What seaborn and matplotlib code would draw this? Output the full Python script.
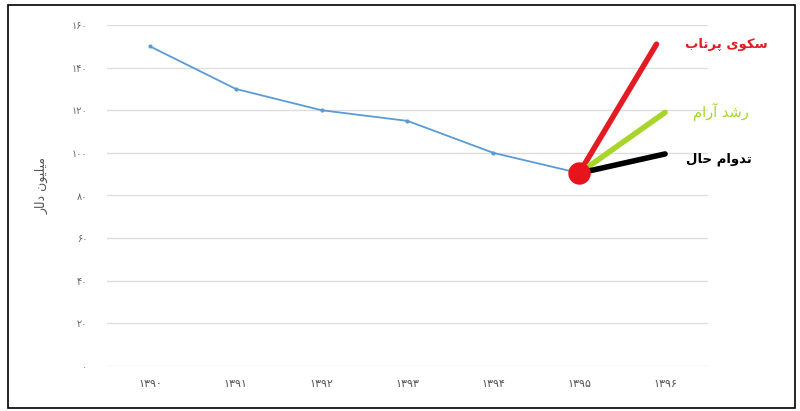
import matplotlib
matplotlib.use("Agg")
import matplotlib.pyplot as plt
import seaborn as sns
import pandas as pd
from matplotlib.patches import Rectangle

years = [1390, 1391, 1392, 1393, 1394, 1395]
values = [150, 130, 120, 115, 100, 90.5]

# scenario lines start at the 1395 point
scenario_names = ["سکوی پرتاب", "رشد آرام", "تدوام حال"]
scenario_end_x = [1395.9, 1396.0, 1396.0]
scenario_end_y = [151, 119, 99.5]
scenario_colors = ["#e31b23", "#a8d52a", "#000000"]

x_ticks = [1390, 1391, 1392, 1393, 1394, 1395, 1396]
y_ticks = [0, 20, 40, 60, 80, 100, 120, 140, 160]
y_label = "میلیون دلار"

## minimal arabic shaping, matplotlib has no complex text layout
FORMS = {
    "ا": ("\uFE8D", "\uFE8E", None, None),
    "آ": ("\uFE81", "\uFE82", None, None),
    "ب": ("\uFE8F", "\uFE90", "\uFE91", "\uFE92"),
    "پ": ("\uFB56", "\uFB57", "\uFB58", "\uFB59"),
    "ت": ("\uFE95", "\uFE96", "\uFE97", "\uFE98"),
    "ح": ("\uFEA1", "\uFEA2", "\uFEA3", "\uFEA4"),
    "د": ("\uFEA9", "\uFEAA", None, None),
    "ر": ("\uFEAD", "\uFEAE", None, None),
    "س": ("\uFEB1", "\uFEB2", "\uFEB3", "\uFEB4"),
    "ش": ("\uFEB5", "\uFEB6", "\uFEB7", "\uFEB8"),
    "ک": ("\uFB8E", "\uFB8F", "\uFB90", "\uFB91"),
    "ل": ("\uFEDD", "\uFEDE", "\uFEDF", "\uFEE0"),
    "م": ("\uFEE1", "\uFEE2", "\uFEE3", "\uFEE4"),
    "ن": ("\uFEE5", "\uFEE6", "\uFEE7", "\uFEE8"),
    "و": ("\uFEED", "\uFEEE", None, None),
    "ی": ("\uFBFC", "\uFBFD", "\uFBFE", "\uFBFF"),
}


def dual(c):
    return c in FORMS and FORMS[c][2] is not None


def shape(text):
    out = []
    for i, c in enumerate(text):
        if c not in FORMS:
            out.append(c)
            continue
        prev = text[i - 1] if i > 0 else ""
        nxt = text[i + 1] if i + 1 < len(text) else ""
        join_prev = dual(prev)
        join_next = dual(c) and nxt in FORMS
        iso, fin, ini, med = FORMS[c]
        if join_prev and join_next:
            out.append(med)
        elif join_prev:
            out.append(fin)
        elif join_next:
            out.append(ini)
        else:
            out.append(iso)
    return "".join(reversed(out))


def fa_digits(n):
    return str(n).translate(str.maketrans("0123456789", "۰۱۲۳۴۵۶۷۸۹"))


sns.set_theme(style="white")
plt.rcParams["font.family"] = ["DejaVu Sans"]

df = pd.DataFrame({"year": years, "value": values})

fig = plt.figure(figsize=(8, 4.11), dpi=100)
ax = fig.add_axes([107 / 800, 45 / 411, 601 / 800, 341 / 411])

sns.lineplot(data=df, x="year", y="value", ax=ax, color="#5b9bd5",
             linewidth=1.3, marker="o", markersize=3, markeredgewidth=0, zorder=3)

# label offsets in points (dpi 100)
offsets = [(50, 0), (40, 0), (39, -4)]
weights = ["bold", "normal", "bold"]
sizes = [9.5, 10.5, 9.5]
for name, ex, ey, col, off, wt, fs in zip(scenario_names, scenario_end_x, scenario_end_y,
                                          scenario_colors, offsets, weights, sizes):
    ax.plot([years[-1], ex], [values[-1], ey], color=col, linewidth=4,
            solid_capstyle="round", zorder=4)
    ax.annotate(shape(name), xy=(ex, ey), xytext=off, textcoords="offset points",
                ha="center", va="center", color=col, fontsize=fs,
                fontweight=wt, annotation_clip=False)

ax.scatter([years[-1]], [values[-1]], s=260, color="#e8141c", zorder=5, linewidths=0)

ax.set_xlim(1389.5, 1396.5)
ax.set_ylim(0, 160)
ax.set_xticks(x_ticks)
ax.set_xticklabels([fa_digits(v) for v in x_ticks], fontsize=8, color="#555555")
ax.set_yticks(y_ticks)
ax.set_yticklabels([fa_digits(v) for v in y_ticks], fontsize=7, color="#666666")
ax.tick_params(axis="y", length=0, pad=14)
ax.tick_params(axis="x", length=0, pad=9)
ax.set_xlabel("")
ax.set_ylabel("")
ax.grid(axis="y", color="#dddddd", linewidth=1)
sns.despine(ax=ax, left=True, bottom=True)

fig.text(42 / 800, 1 - 185 / 411, shape(y_label), rotation=90, ha="center",
         va="center", fontsize=9, color="#555555")

fig.patches.append(Rectangle((8 / 800, 3 / 411), 787 / 800, 403 / 411,
                             transform=fig.transFigure, fill=False,
                             edgecolor="black", linewidth=1.2))

fig.savefig("out.png", dpi=100)
